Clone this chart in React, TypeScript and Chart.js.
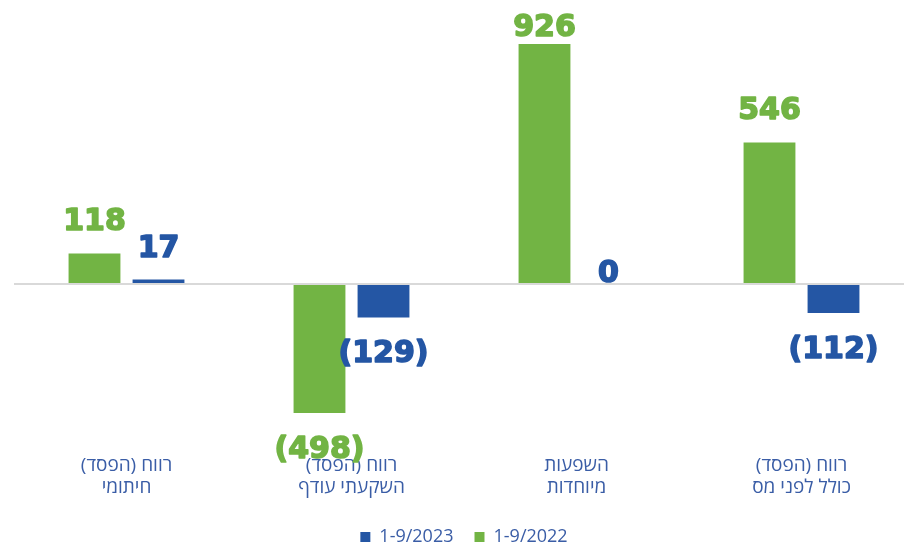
import React, { useEffect, useRef } from 'react';
import { Chart, registerables } from 'chart.js';

Chart.register(...registerables);

const categories: string[][] = [
  ['רווח (הפסד)', 'חיתומי'],
  ['רווח (הפסד)', 'השקעתי עודף'],
  ['השפעות', 'מיוחדות'],
  ['רווח (הפסד)', 'כולל לפני מס'],
];
const seriesNames = ['1-9/2022', '1-9/2023'];
const values2022 = [118, -498, 926, 546];
const values2023 = [17, -129, 0, -112];

const GREEN = '#72B444';
const BLUE = '#2456A4';
const TEXT_BLUE = '#3A5DA6';

const RLM = '\u200F';

function fmt(v: number): string {
  return v < 0 ? `(${Math.abs(v)})` : `${v}`;
}

const valueLabels = {
  id: 'valueLabels',
  afterDatasetsDraw(chart: any) {
    const ctx = chart.ctx;
    const area = chart.chartArea;
    const zero = chart.scales.y.getPixelForValue(0);
    chart.data.datasets.forEach((ds: any, di: number) => {
      const meta = chart.getDatasetMeta(di);
      meta.data.forEach((bar: any, i: number) => {
        const v = ds.data[i] as number;
        const { x, y } = bar.getProps(['x', 'y'], true);
        let baseline: number;
        if (v > 0) baseline = Math.max(y - 23, area.top + 16);
        else if (v < 0) baseline = y + 45;
        else baseline = zero - 2;
        ctx.save();
        ctx.font = 'bold 30px "DejaVu Sans", sans-serif';
        ctx.fillStyle = ds.backgroundColor;
        ctx.strokeStyle = ds.backgroundColor;
        ctx.lineWidth = 1.6;
        ctx.lineJoin = 'round';
        ctx.textAlign = 'center';
        ctx.textBaseline = 'alphabetic';
        ctx.direction = 'ltr';
        ctx.fillText(fmt(v), x, baseline);
        ctx.strokeText(fmt(v), x, baseline);
        ctx.restore();
      });
    });
  },
};

export default function App() {
  const ref = useRef<HTMLCanvasElement | null>(null);

  useEffect(() => {
    document.body.style.margin = '0';
    if (!ref.current) return;
    const chart = new Chart(ref.current, {
      type: 'bar',
      data: {
        labels: categories.map((lines) => lines.map((l) => RLM + l + RLM)),
        datasets: [
          {
            label: seriesNames[0],
            data: values2022,
            backgroundColor: GREEN,
            borderWidth: 0,
            categoryPercentage: 0.569,
            barPercentage: 0.81,
          },
          {
            label: seriesNames[1],
            data: values2023,
            backgroundColor: BLUE,
            borderWidth: 0,
            categoryPercentage: 0.569,
            barPercentage: 0.81,
          },
        ],
      },
      options: {
        responsive: false,
        animation: false,
        layout: { padding: { left: 14, right: 0, top: 19.6, bottom: 0 } },
        scales: {
          x: {
            grid: { display: false, drawTicks: false },
            border: { display: false },
            ticks: {
              autoSkip: false,
              maxRotation: 0,
              minRotation: 0,
              padding: 8,
              color: TEXT_BLUE,
              font: { family: '"Open Sans", "DejaVu Sans", sans-serif', size: 19, lineHeight: '22px' },
            },
          },
          y: {
            min: -629,
            max: 1020,
            ticks: { display: false, stepSize: 200 },
            border: { display: false },
            grid: {
              drawTicks: false,
              lineWidth: 2,
              color: (c: any) => (c.tick && c.tick.value === 0 ? '#D9D9D9' : 'rgba(0,0,0,0)'),
            },
          },
        },
        plugins: {
          legend: {
            position: 'bottom',
            reverse: true,
            labels: {
              boxWidth: 10,
              boxHeight: 10,
              padding: 21,
              color: TEXT_BLUE,
              font: { family: '"Open Sans", "DejaVu Sans", sans-serif', size: 18 },
            },
          },
          tooltip: { enabled: false },
        },
      },
      plugins: [valueLabels],
    });
    return () => chart.destroy();
  }, []);

  return (
    <div style={{ width: 904, height: 545, overflow: 'hidden', position: 'relative' }}>
      <canvas ref={ref} width={914} height={556} style={{ display: 'block' }} />
    </div>
  );
}
